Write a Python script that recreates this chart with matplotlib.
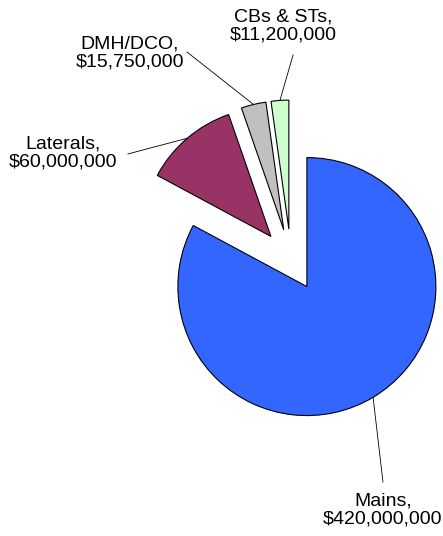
import numpy as np
import matplotlib.pyplot as plt

plt.rcParams['font.family'] = ['Liberation Sans', 'DejaVu Sans']

categories = ['Mains', 'Laterals', 'DMH/DCO', 'CBs & STs']
costs = [420000000, 60000000, 15750000, 11200000]
colors = ['#3366FF', '#993366', '#C0C0C0', '#CCFFCC']

# label anchor (text centre) and where the leader line stops, in pie units
label_pos = [(0.713, -1.938), (-1.767, 0.829), (-1.248, 1.605), (-0.062, 1.814)]
line_end = [(0.713, -1.721), (-1.264, 0.822), (-0.806, 1.612), (0.016, 1.589)]

fig = plt.figure(figsize=(4.43, 5.36), dpi=100)
ax = fig.add_axes([0, 0, 1, 1])

wedges, _ = ax.pie(costs, colors=colors, startangle=90, counterclock=False,
                   explode=[0.24] * 4, radius=1.0,
                   wedgeprops=dict(edgecolor='black', linewidth=0.8))

for w, name, val, pos, end in zip(wedges, categories, costs, label_pos, line_end):
    mid = np.deg2rad((w.theta1 + w.theta2) / 2)
    cx, cy = w.center
    start = (cx + w.r * np.cos(mid), cy + w.r * np.sin(mid))
    ax.plot([start[0], end[0]], [start[1], end[1]], color='black', lw=0.6)
    ax.text(pos[0], pos[1], f'{name},\n${val:,.0f}', ha='center', va='center',
            fontsize=14, color='black', linespacing=1.1)

ax.set_xlim(-291 / 129, 152 / 129)
ax.set_ylim(-276 / 129, 260 / 129)
ax.set_aspect('equal')
ax.axis('off')

fig.savefig('out.png', dpi=100)
